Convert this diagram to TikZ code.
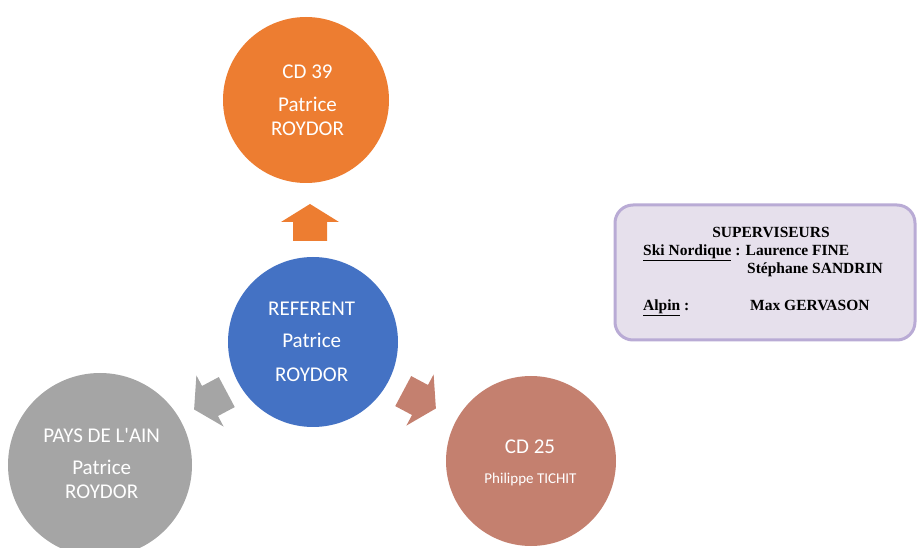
\documentclass[tikz,border=0pt]{standalone}
\usepackage{fontspec}
\setmainfont{Carlito}
\newfontfamily\tnr{Liberation Serif}
\definecolor{corange}{HTML}{ED7D31}
\definecolor{cblue}{HTML}{4472C4}
\definecolor{cgrey}{HTML}{A5A5A5}
\definecolor{cbrown}{HTML}{C4806F}
\definecolor{boxfill}{HTML}{E6E0EC}
\definecolor{boxline}{HTML}{B9ABD5}
\tikzset{
  circ/.style={circle, inner sep=0pt, minimum size=#1},
  lbl/.style={text=white, anchor=base, inner sep=0pt, font=\fontsize{21}{25}\selectfont},
  smalllbl/.style={text=white, anchor=base, inner sep=0pt, font=\fontsize{15}{18}\selectfont},
  boxtxt/.style={inner sep=0pt, font=\tnr\bfseries\fontsize{15.5}{18}\selectfont},
  superbox/.style={draw=boxline, fill=boxfill, line width=3pt, rounded corners=18pt},
}
\begin{document}
\begin{tikzpicture}[x=1pt,y=1pt]
\useasboundingbox (0,0) rectangle (922,547);
\clip (0,0) rectangle (922,547);
% circles
\node[circ=166pt, fill=corange] (cd39) at (306,447) {};
\node[circ=170pt, fill=cblue] (ref) at (313,205) {};
\node[circ=184pt, fill=cgrey] (ain) at (100,82) {};
\node[circ=170pt, fill=cbrown] (cd25) at (531,86) {};
% block arrows (origin at head base centre, pointing along +x)
\fill[corange, shift={(310,325)}, rotate=90]
  (-19,-17) -- (0,-17) -- (0,-29) -- (18,0) -- (0,29) -- (0,17) -- (-19,17) -- cycle;
\fill[cbrown, shift={(420,147)}, rotate=-28]
  (-19,-17) -- (0,-17) -- (0,-29) -- (18,0) -- (0,29) -- (0,17) -- (-19,17) -- cycle;
\fill[cgrey, shift={(210,146)}, rotate=-152]
  (-19,-17) -- (0,-17) -- (0,-29) -- (18,0) -- (0,29) -- (0,17) -- (-19,17) -- cycle;
% texts in circles
\node[lbl] (t39a) at (307.5,468) {CD 39};
\node[lbl] (t39b) at (307.5,435) {Patrice};
\node[lbl] (t39c) at (307.5,411) {ROYDOR};
\node[lbl] (trefa) at (311.7,231) {REFERENT};
\node[lbl] (trefb) at (311.7,199) {Patrice};
\node[lbl] (trefc) at (311.7,165) {ROYDOR};
\node[lbl] (taina) at (101.7,104) {PAYS DE L\textquotesingle AIN};
\node[lbl] (tainb) at (101.7,73) {Patrice};
\node[lbl] (tainc) at (101.7,49) {ROYDOR};
\node[lbl] (t25a) at (530,93) {CD 25};
\node[smalllbl] (t25b) at (530.5,64) {Philippe TICHIT};
% supervisors box
\draw[superbox] (615,207) rectangle (915,342);
\node[boxtxt, anchor=base] (sup) at (771,309.5) {SUPERVISEURS};
\node[boxtxt, anchor=base west] (ski) at (643,291) {\underline{Ski Nordique} : Laurence FINE};
\node[boxtxt, anchor=base west] (steph) at (747,273) {Stéphane SANDRIN};
\node[boxtxt, anchor=base west] (alpin) at (643,236) {\underline{Alpin} :};
\node[boxtxt, anchor=base west] (max) at (750,236) {Max GERVASON};
\end{tikzpicture}
\end{document}
